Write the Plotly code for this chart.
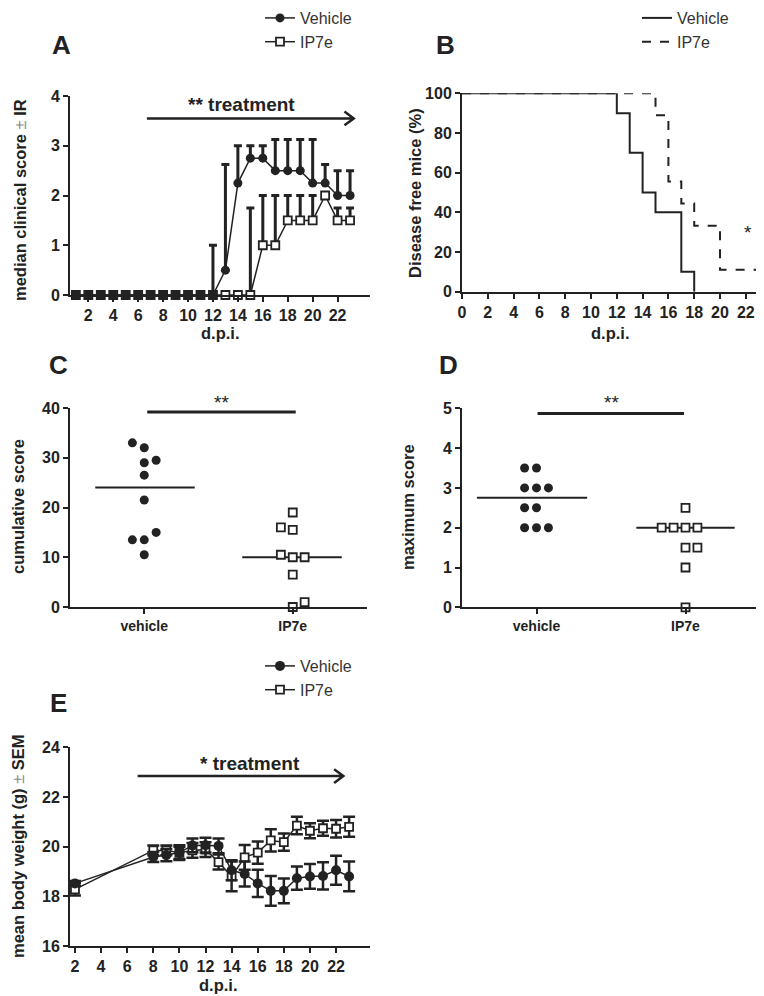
import plotly.graph_objects as go
import numpy as np

# The page body adds an 8px offset; coordinates below are reference pixels.
OFF = 8
W, H = 764 - OFF, 996 - OFF
def px(x): return (x - OFF) / W
def py(y): return 1 - (y - OFF) / H

INK = "#222222"
FONT = "Liberation Sans"

# ---------------- data ----------------
# Panel A: median clinical score (+ upper interquartile bound)
days_a = list(range(1, 24))
veh_median = [0]*12 + [0.5, 2.25, 2.75, 2.75, 2.5, 2.5, 2.5, 2.25, 2.25, 2.0, 2.0]
veh_upper = [0]*11 + [1.0, 2.625, 3.0, 3.0, 3.0, 3.125, 3.125, 3.125, 3.125, 2.625, 2.5, 2.5]
ip7_median = [0]*15 + [1.0, 1.0, 1.5, 1.5, 1.5, 2.0, 1.5, 1.5]
ip7_upper = [0]*14 + [1.75, 2.0, 2.0, 2.0, 2.0, 2.0, 2.0, 1.75, 1.75]

# Panel B: disease free mice (Kaplan-Meier steps)
veh_km_days = [0, 12, 13, 14, 15, 17, 18]
veh_km = [100, 90, 70, 50, 40, 10, 0]
ip7_km_days = [0, 15, 16, 17, 18, 20, 23]
ip7_km = [100, 88.9, 55.6, 44.4, 33.3, 11.1, 11.1]

# Panel C: cumulative score per mouse
groups = ["vehicle", "IP7e"]
cum_vehicle = [33, 32, 29, 29.5, 26.5, 21.5, 13.5, 13.5, 15, 10.5]
cum_ip7 = [19, 16, 15.5, 10.5, 10, 10, 6.5, 0, 1]

# Panel D: maximum score per mouse
max_vehicle = [3.5, 3.5, 3, 3, 3, 2.5, 2.5, 2, 2, 2]
max_ip7 = [2.5, 2, 2, 2, 2, 1.5, 1.5, 1, 0]

# Panel E: mean body weight +/- SEM
days_e = [2, 8, 9, 10, 11, 12, 13, 14, 15, 16, 17, 18, 19, 20, 21, 22, 23]
veh_w = [18.52, 19.58, 19.66, 19.76, 20.05, 20.06, 20.03, 19.05, 18.9, 18.52, 18.22, 18.22, 18.73, 18.8, 18.82, 19.05, 18.8]
veh_sem = [0.1, 0.2, 0.25, 0.3, 0.28, 0.3, 0.3, 0.4, 0.5, 0.55, 0.6, 0.5, 0.47, 0.5, 0.55, 0.58, 0.6]
ip7_w = [18.28, 19.85, 19.85, 19.75, 19.85, 19.88, 19.38, 18.8, 19.57, 19.76, 20.25, 20.18, 20.85, 20.64, 20.74, 20.72, 20.8]
ip7_sem = [0.25, 0.2, 0.2, 0.25, 0.3, 0.3, 0.3, 0.6, 0.5, 0.45, 0.45, 0.35, 0.35, 0.3, 0.3, 0.35, 0.4]

# layout helpers (scatter-column slots for dot plots)
slot_c_veh = [-1, 0, 0, 1, 0, 0, -1, 0, 1, 0]
slot_c_ip7 = [0, -1, 0, -1, 0, 1, 0, 0, 1]
slot_d_veh = [-1, 0, -1, 0, 1, -1, 0, -1, 0, 1]
slot_d_ip7 = [0, -2, -1, 0, 1, 0, 1, 0, 0]
SLOT = 0.08

fig = go.Figure()

# ---------- Panel A ----------
err_v = [u - m for u, m in zip(veh_upper, veh_median)]
err_i = [u - m for u, m in zip(ip7_upper, ip7_median)]
fig.add_trace(go.Scatter(
    x=days_a, y=ip7_median, name="IP7e", mode="lines+markers",
    line=dict(color=INK, width=1.5),
    marker=dict(symbol="square", size=8, color="white", line=dict(color=INK, width=1.8)),
    error_y=dict(type="data", symmetric=False, array=err_i, arrayminus=[0]*len(err_i),
                 color=INK, thickness=3, width=4),
    cliponaxis=False, xaxis="x", yaxis="y", legend="legend", legendrank=2))
fig.add_trace(go.Scatter(
    x=days_a, y=veh_median, name="Vehicle", mode="lines+markers",
    line=dict(color=INK, width=1.5),
    marker=dict(symbol="circle", size=9, color=INK),
    error_y=dict(type="data", symmetric=False, array=err_v, arrayminus=[0]*len(err_v),
                 color=INK, thickness=3, width=4),
    cliponaxis=False, xaxis="x", yaxis="y", legend="legend", legendrank=1))

# ---------- Panel B ----------
fig.add_trace(go.Scatter(
    x=ip7_km_days, y=ip7_km, name="IP7e", mode="lines", line_shape="hv",
    line=dict(color=INK, width=2, dash="dash"), cliponaxis=False,
    xaxis="x2", yaxis="y2", legend="legend2", legendrank=2))
fig.add_trace(go.Scatter(
    x=veh_km_days, y=veh_km, name="Vehicle", mode="lines", line_shape="hv",
    line=dict(color=INK, width=2), cliponaxis=False,
    xaxis="x2", yaxis="y2", legend="legend2", legendrank=1))

# ---------- Panel C & D ----------
def dots(vals, slots, center, ax, ay, filled):
    xs = [center + s * SLOT for s in slots]
    if filled:
        mk = dict(symbol="circle", size=9, color=INK)
    else:
        mk = dict(symbol="square", size=8, color="white", line=dict(color=INK, width=1.8))
    fig.add_trace(go.Scatter(x=xs, y=vals, mode="markers", marker=mk, showlegend=False,
                             cliponaxis=False, xaxis=ax, yaxis=ay))

def median_line(vals, center, lo, hi, ax, ay):
    m = float(np.median(vals))
    fig.add_trace(go.Scatter(x=[center + lo, center + hi], y=[m, m], mode="lines",
                             line=dict(color=INK, width=2), showlegend=False,
                             xaxis=ax, yaxis=ay))

median_line(cum_vehicle, 1, -0.33, 0.34, "x3", "y3")
median_line(cum_ip7, 2, -0.34, 0.33, "x3", "y3")
dots(cum_vehicle, slot_c_veh, 1, "x3", "y3", True)
dots(cum_ip7, slot_c_ip7, 2, "x3", "y3", False)

median_line(max_vehicle, 1, -0.4, 0.34, "x4", "y4")
median_line(max_ip7, 2, -0.33, 0.33, "x4", "y4")
dots(max_vehicle, slot_d_veh, 1, "x4", "y4", True)
dots(max_ip7, slot_d_ip7, 2, "x4", "y4", False)

# ---------- Panel E ----------
fig.add_trace(go.Scatter(
    x=days_e, y=ip7_w, name="IP7e", mode="lines+markers",
    line=dict(color=INK, width=1.5),
    marker=dict(symbol="square", size=8, color="white", line=dict(color=INK, width=1.8)),
    error_y=dict(type="data", array=ip7_sem, color=INK, thickness=2.5, width=6),
    cliponaxis=False, xaxis="x5", yaxis="y5", legend="legend3", legendrank=2))
fig.add_trace(go.Scatter(
    x=days_e, y=veh_w, name="Vehicle", mode="lines+markers",
    line=dict(color=INK, width=1.5),
    marker=dict(symbol="circle", size=10, color=INK),
    error_y=dict(type="data", array=veh_sem, color=INK, thickness=2.5, width=6),
    cliponaxis=False, xaxis="x5", yaxis="y5", legend="legend3", legendrank=1))

# ---------- axes ----------
tickfont = dict(family=FONT, size=16, color=INK, weight="bold")
catfont = dict(family=FONT, size=14, color=INK, weight="bold")
def axis(domain, rng, anchor, **kw):
    d = dict(domain=domain, range=rng, anchor=anchor, showline=True, linecolor=INK,
             linewidth=2, ticks="outside", ticklen=5, tickwidth=2, tickcolor=INK,
             showgrid=False, zeroline=False, tickfont=tickfont, fixedrange=True,
             automargin=False)
    d.update(kw)
    return d

fig.update_layout(
    xaxis=axis([px(70), px(370)], [0.53, 24.6], "y", tickvals=list(range(2, 23, 2))),
    yaxis=axis([py(295), py(96)], [0, 4], "x", tickvals=[0, 1, 2, 3, 4]),
    xaxis2=axis([px(462), px(760)], [0, 23.1], "y2", tickvals=list(range(0, 23, 2))),
    yaxis2=axis([py(291.7), py(93.3)], [0, 100], "x2", tickvals=[0, 20, 40, 60, 80, 100]),
    xaxis3=axis([px(70), px(367)], [0.5, 2.5], "y3", tickvals=[1, 2], ticktext=groups,
                tickfont=catfont),
    yaxis3=axis([py(607), py(408)], [0, 40], "x3", tickvals=[0, 10, 20, 30, 40]),
    xaxis4=axis([px(462), px(760)], [0.5, 2.5], "y4", tickvals=[1, 2], ticktext=groups,
                tickfont=catfont),
    yaxis4=axis([py(607.3), py(408.3)], [0, 5], "x4", tickvals=[0, 1, 2, 3, 4, 5]),
    xaxis5=axis([px(70), px(370)], [1.62, 24.6], "y5", tickvals=list(range(2, 23, 2))),
    yaxis5=axis([py(946), py(747.3)], [16, 24], "x5", tickvals=[16, 18, 20, 22, 24]),
)

legfont = dict(family=FONT, size=16, color="#333333")
def leg(x, y):
    return dict(x=x, y=y, xanchor="left", yanchor="top", font=legfont, bgcolor="rgba(0,0,0,0)",
                itemwidth=30, tracegroupgap=0, traceorder="normal")

fig.update_layout(
    width=W, height=H,
    margin=dict(l=0, r=0, t=0, b=0, pad=0, autoexpand=False),
    paper_bgcolor="white", plot_bgcolor="white",
    font=dict(family=FONT, color=INK),
    legend=leg(px(260), py(1)),
    legend2=leg(px(637), py(1)),
    legend3=leg(px(260), py(649)),
)

# ---------- annotations ----------
ann = []
def text(x, y, s, size=16, bold=True, angle=0, color=INK, **kw):
    ann.append(dict(x=x, y=y, xref="paper", yref="paper", text=s, showarrow=False,
                    textangle=angle, xanchor="center", yanchor="middle",
                    font=dict(family=FONT, size=size, color=color,
                              weight="bold" if bold else "normal"), **kw))

PM = "<span style='font-weight:normal;color:#888888'>±</span>"
# panel letters
for lx, ly, l in [(61, 45, "A"), (445, 45, "B"), (58, 365, "C"), (448, 365, "D"), (58, 703, "E")]:
    text(px(lx), py(ly), l, size=26)
# axis titles
text(px(20), py(200), "median clinical score " + PM + " IR", size=16.5, angle=-90)
text(px(220), py(333), "d.p.i.", size=16.5)
text(px(415), py(193), "Disease free mice (%)", size=16.5, angle=-90)
text(px(610), py(333), "d.p.i.", size=16.5)
text(px(18), py(507), "cumulative score", size=16.5, angle=-90)
text(px(408), py(507), "maximum score", size=16.5, angle=-90)
text(px(18), py(846), "mean body weight (g) " + PM + " SEM", size=16.5, angle=-90)
text(px(218), py(985), "d.p.i.", size=16.5)
# treatment labels
text(px(241), py(104), "** treatment", size=19)
text(px(250), py(763), "* treatment", size=19)
# significance marks
text(px(221), py(402), "**", size=19, bold=False)
text(px(611), py(402), "**", size=19, bold=False)
ann.append(dict(x=22.2, y=29.6, xref="x2", yref="y2", text="*", showarrow=False,
                font=dict(family=FONT, size=19, color=INK)))
fig.update_layout(annotations=ann)

# ---------- shapes (arrows, significance bars) ----------
shapes = [
    dict(type="path", xref="x", yref="y",
         path="M 6.7 3.55 L 23.3 3.55 M 22.55 3.69 L 23.3 3.55 L 22.55 3.41",
         line=dict(color=INK, width=2.5)),
    dict(type="path", xref="x5", yref="y5",
         path="M 6.8 22.84 L 22.56 22.84 M 21.85 23.12 L 22.56 22.84 L 21.85 22.56",
         line=dict(color=INK, width=2.5)),
    dict(type="line", xref="x3", yref="y3", x0=1.02, x1=2.02, y0=39.2, y1=39.2,
         line=dict(color=INK, width=3)),
    dict(type="line", xref="x4", yref="y4", x0=1.007, x1=1.99, y0=4.87, y1=4.87,
         line=dict(color=INK, width=3)),
]
fig.update_layout(shapes=shapes)

fig.write_html("out.html")
